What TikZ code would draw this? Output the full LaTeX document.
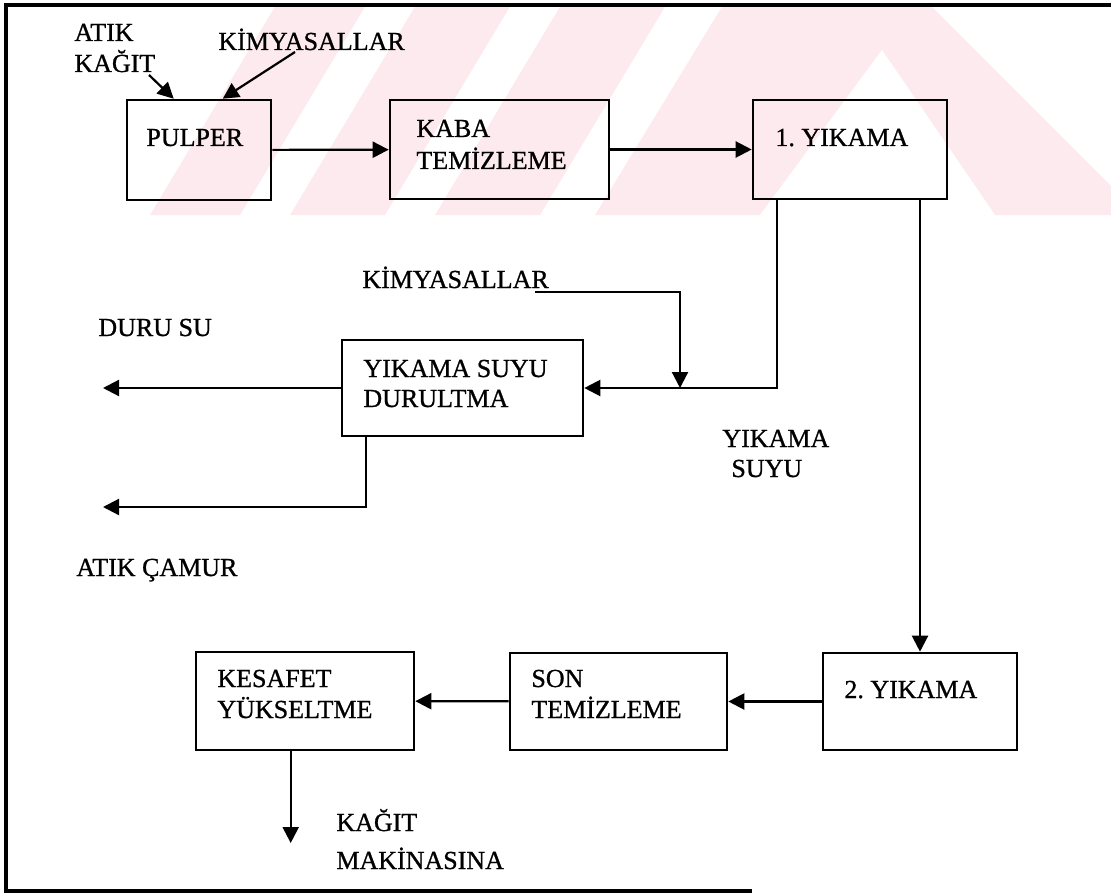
\documentclass[tikz,border=0pt]{standalone}
\usepackage{fontspec}
\setmainfont{Liberation Serif}[BoldFont=Liberation Serif,BoldFeatures={FakeBold=0.9}]
\usetikzlibrary{arrows.meta,calc,fit}
\definecolor{wmpink}{RGB}{253,234,238}
\frenchspacing
\begin{document}
\begin{tikzpicture}[x=0.5pt,y=-0.5pt,
  box/.style={draw,line width=1.3pt,inner sep=0pt},
  txt/.style={anchor=base west,inner sep=0pt,font=\fontsize{13}{15}\selectfont\bfseries},
  conn/.style={line width=1.1pt},
  arr/.style={conn,-{Triangle[length=8pt,width=8pt]}}]
\useasboundingbox (0,0) rectangle (1111,893);

% faint background watermark stripes
\begin{scope}
  \clip (6,5) rectangle (1111,215);
  \fill[wmpink] (150,215) -- (240,215) -- (366,5) -- (276,5) -- cycle;
  \fill[wmpink] (290,215) -- (385,215) -- (511,5) -- (416,5) -- cycle;
  \fill[wmpink] (435,215) -- (540,215) -- (666,5) -- (561,5) -- cycle;
  \fill[wmpink] (595,215) -- (726,0) -- (925,0) -- (1140,215) -- cycle;
  \fill[white] (760,215) -- (882,50) -- (995,215) -- cycle;
\end{scope}

% outer frame
\draw[line width=1.8pt] (1111,5) -- (6,5) -- (6,891) -- (752,891);

% process boxes
\node[box,fit={(127,100)(271,200)}] (pulper) {};
\node[box,fit={(390,100)(609,199)}] (kaba) {};
\node[box,fit={(753,100)(947,199)}] (y1) {};
\node[box,fit={(342,340)(583,436)}] (ysd) {};
\node[box,fit={(823,653)(1017,750)}] (y2) {};
\node[box,fit={(510,653)(727,750)}] (son) {};
\node[box,fit={(196,652)(414,750)}] (kes) {};

% box texts
\node[txt] (tpulper) at (146,146) {PULPER};
\node[txt] (tkaba1) at (416,137) {KABA};
\node[txt] (tkaba2) at (416,169) {TEMİZLEME};
\node[txt] (ty1) at (775,146) {1. YIKAMA};
\node[txt] (tysd1) at (363,377) {YIKAMA SUYU};
\node[txt] (tysd2) at (363,407) {DURULTMA};
\node[txt] (ty2) at (844,698) {2. YIKAMA};
\node[txt] (tson1) at (531,687) {SON};
\node[txt] (tson2) at (531,718) {TEMİZLEME};
\node[txt] (tkes1) at (217,687) {KESAFET};
\node[txt] (tkes2) at (217,718) {YÜKSELTME};

% stream labels
\node[txt] (latik1) at (74,41) {ATIK};
\node[txt] (latik2) at (74,72) {KAĞIT};
\node[txt] (lkim1) at (218,50) {KİMYASALLAR};
\node[txt] (lkim2) at (362,288) {KİMYASALLAR};
\node[txt] (lduru) at (98,336) {DURU SU};
\node[txt] (lyks1) at (722,447) {YIKAMA};
\node[txt] (lyks2) at (731,477) {SUYU};
\node[txt] (lcamur) at (76,576) {ATIK ÇAMUR};
\node[txt] (lkag1) at (336,831) {KAĞIT};
\node[txt] (lkag2) at (336,869) {MAKİNASINA};

% free ends of the streams
\coordinate (akIn) at (149,75);
\coordinate (kim1In) at (295,52);
\coordinate (kimIn) at (535,292);
\coordinate (kimX) at (680,292);
\coordinate (duru) at (103,388);
\coordinate (camur) at (103,507);
\coordinate (paper) at (292,843);
\coordinate (y1out) at ($(y1.south west)+(25,0)$);
\coordinate (ysdout) at ($(ysd.south west)+(25,0)$);
\coordinate (kesout) at ($(kes.south west)+(96,0)$);

% connectors
\draw[arr] (akIn) -- ($(pulper.north west)+(48,0)$);
\draw[arr] (kim1In) -- ($(pulper.north west)+(97,0)$);
\draw[arr] (pulper) -- (kaba);
\draw[arr] (kaba) -- (y1);
\draw[arr] (y1out) |- (ysd.east);
\draw[arr] (kimIn) -- (kimX) -- (kimX |- ysd.east);
\draw[arr] (ysd.west) -- (duru |- ysd.west);
\draw[arr] (ysdout) |- (camur);
\draw[arr] (y1.south -| y2.north) -- (y2.north);
\draw[arr] (y2) -- (son);
\draw[arr] (son) -- (kes);
\draw[arr] (kesout) -- (kesout |- paper);
\end{tikzpicture}
\end{document}
